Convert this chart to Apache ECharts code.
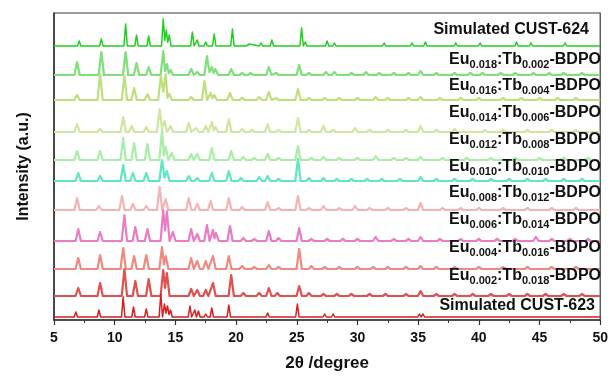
<!DOCTYPE html>
<html><head><meta charset="utf-8">
<script src="https://cdn.jsdelivr.net/npm/echarts/dist/echarts.min.js"></script>
<style>html,body{margin:0;padding:0;background:#fff}#c{width:611px;height:379px}</style>
</head><body><div id="c"></div>
<script>
// ---- data (2theta in degrees, intensity in a.u. above each trace's baseline) ----
const xTicks = [5, 10, 15, 20, 25, 30, 35, 40, 45, 50];
const seriesNames = ['Simulated CUST-624','Eu0.018:Tb0.002-BDPO','Eu0.016:Tb0.004-BDPO','Eu0.014:Tb0.006-BDPO','Eu0.012:Tb0.008-BDPO','Eu0.010:Tb0.010-BDPO','Eu0.008:Tb0.012-BDPO','Eu0.006:Tb0.014-BDPO','Eu0.004:Tb0.016-BDPO','Eu0.002:Tb0.018-BDPO','Simulated CUST-623'];
const offsets = [274, 245, 220, 188, 160, 139, 110, 79, 51, 24, 3];

const pCUST624 = [[7.08,5],[8.9,7],[10.9,22],[11.8,11],[12.8,10],[14.0,27],[14.25,16],[14.5,11],[16.4,14],[16.8,6],[17.5,4],[18.2,12],[19.7,17],[20.7,2],[21.1,2],[22.05,3],[22.95,6],[23.55,2],[25.4,18],[25.7,4],[27.5,5],[28.1,3],[29.2,2],[30.3,2],[31.0,2],[32.2,3],[33.0,2],[34.5,3],[35.6,4],[36.3,2],[37.2,2],[38.1,3],[39.0,2],[40.1,3],[41.5,2],[42.2,2],[43.1,4],[44.3,3],[45.5,2],[47.1,3],[48.3,2],[49.2,2]];
const pEu018 = [[6.9,13],[8.9,23],[10.9,23],[11.8,12],[12.8,8],[14.0,24],[14.3,11],[14.6,5],[16.3,6],[16.8,3],[17.6,19],[18.0,8],[18.3,6],[19.6,6],[20.5,2],[21.2,2],[22.7,8],[23.3,2],[25.2,10],[26.0,2],[27.4,3],[28.1,3],[29.5,2],[30.7,3],[31.8,2],[33.0,2],[34.2,2],[35.2,4],[36.5,2],[38.0,2],[39.3,2],[40.3,2],[41.8,2],[43.0,2],[44.5,2],[45.8,2],[47.0,2],[48.5,2]];
const pEu016 = [[6.9,5],[8.8,26],[10.8,24],[11.6,12],[12.7,6],[13.8,24],[14.2,26],[14.5,6],[16.3,3],[17.4,19],[17.9,7],[18.2,5],[19.5,7],[20.5,2],[21.9,3],[22.7,8],[23.3,2],[25.1,11],[26.0,2],[27.3,2],[28.5,2],[30.0,2],[31.5,3],[32.5,2],[34.2,2],[35.2,3],[36.8,2],[38.5,2],[40.0,2],[42.0,2],[43.5,2],[45.0,2],[46.5,2],[48.0,2]];
const pEu014 = [[6.9,8],[8.8,3],[10.7,15],[11.4,6],[12.6,5],[13.7,23],[14.1,11],[14.6,6],[16.1,9],[16.7,4],[17.5,6],[18.0,10],[18.3,5],[19.4,13],[20.5,3],[21.3,2],[22.6,8],[23.5,2],[25.1,14],[26.0,2],[27.2,6],[28.0,2],[29.8,4],[31.0,2],[32.5,2],[34.0,2],[35.2,6],[36.5,2],[38.0,3],[40.5,2],[42.0,2],[44.0,2],[46.0,2],[48.0,2]];
const pEu012 = [[6.9,9],[8.8,9],[10.7,22],[11.6,17],[12.7,16],[13.9,30],[14.2,13],[14.7,7],[16.3,6],[16.8,6],[18.0,12],[19.6,9],[20.6,3],[21.5,2],[22.6,6],[23.5,2],[25.1,14],[26.2,2],[27.2,3],[28.5,2],[30.0,2],[31.5,4],[33.0,2],[34.0,2],[35.2,3],[37.0,2],[39.0,2],[41.0,2],[43.0,2],[45.0,2],[47.0,2],[49.0,2]];
const pEu010 = [[7.0,8],[8.8,5],[10.7,16],[11.5,8],[12.6,8],[13.9,21],[14.3,10],[16.1,5],[16.8,3],[18.0,8],[19.4,10],[20.4,3],[21.9,4],[22.6,5],[23.5,2],[25.1,22],[26.0,3],[27.2,3],[28.3,2],[29.5,2],[30.8,2],[32.0,2],[33.5,2],[35.2,4],[36.5,2],[38.0,2],[39.5,2],[41.0,2],[42.5,2],[44.0,2],[45.5,2],[47.0,2],[48.5,2]];
const pEu008 = [[6.9,12],[8.7,4],[10.6,14],[11.5,6],[12.6,4],[13.7,23],[14.2,11],[16.1,12],[16.8,6],[17.9,9],[19.4,12],[20.5,3],[22.6,8],[23.5,2],[25.1,14],[26.0,2],[27.2,4],[28.5,2],[29.8,4],[31.0,2],[32.5,2],[34.0,2],[35.2,7],[37.0,2],[38.5,2],[40.0,2],[42.0,2],[44.0,2],[46.0,2],[48.0,2]];
const pEu006 = [[7.0,12],[8.8,9],[10.8,26],[11.7,14],[12.7,12],[14.0,31],[14.3,30],[14.8,9],[16.3,12],[16.8,7],[17.6,16],[18.1,11],[18.35,8],[19.5,15],[20.6,3],[21.5,2],[22.7,10],[23.5,3],[25.2,13],[26.2,2],[27.5,2],[28.8,2],[30.0,2],[31.5,4],[33.0,2],[34.2,2],[35.2,4],[36.8,2],[38.5,2],[40.0,2],[41.5,2],[43.0,2],[44.7,4],[46.0,2],[47.5,2],[49.0,2]];
const pEu004 = [[7.0,11],[8.8,14],[10.7,21],[11.6,13],[12.6,14],[13.9,22],[14.2,13],[16.3,11],[16.8,8],[17.5,8],[18.1,13],[19.4,13],[20.5,3],[21.5,2],[22.7,4],[23.5,2],[25.2,20],[26.2,3],[27.3,2],[28.5,2],[30.0,2],[31.3,2],[32.5,2],[34.0,2],[35.2,3],[36.5,2],[38.0,2],[40.0,2],[42.0,2],[44.0,2],[46.0,2],[48.0,2]];
const pEu002 = [[7.0,8],[8.8,13],[10.8,27],[11.7,15],[12.8,17],[14.0,26],[14.3,23],[16.3,7],[16.8,6],[17.5,6],[18.1,13],[19.6,21],[20.6,3],[21.9,3],[22.7,8],[23.4,3],[25.2,10],[26.0,3],[27.2,2],[28.3,2],[29.5,2],[31.0,2],[32.3,2],[34.0,2],[35.2,5],[36.5,2],[38.0,2],[39.5,2],[41.0,2],[42.5,2],[44.0,2],[45.5,2],[47.0,2],[48.5,2]];
const pCUST623 = [[6.8,5],[8.7,7],[10.7,20],[11.55,10],[12.6,8],[13.8,23],[14.1,13],[14.35,11],[14.6,7],[16.2,11],[16.6,7],[16.9,6],[17.5,3],[18.0,9],[19.4,12],[20.6,2],[21.7,2],[22.6,4],[23.3,2],[25.05,13],[25.85,2],[27.3,3],[28.0,3],[29.9,2],[30.8,2],[31.8,2],[32.6,2],[34.0,2],[35.1,3],[35.4,3],[36.3,1],[37.5,1],[38.5,1],[39.4,1],[40.4,1],[41.5,1],[42.1,2],[42.6,2],[43.5,1],[44.3,1],[45.8,1],[46.5,1],[47.3,1],[48.2,1],[49.0,1]];

const allPeaks = [pCUST624,pEu018,pEu016,pEu014,pEu012,pEu010,pEu008,pEu006,pEu004,pEu002,pCUST623];

// ---- styles / layout ----
const colors = ['#1fd01f','#7fdf78','#bde07c','#cfe5a0','#a9eea6','#5fe6c2','#f3b5b3','#ea7cc2','#ee8a80','#e2504e','#d81e1e'];
const simulated = [true,false,false,false,false,false,false,false,false,false,true];
const labelY = [30, 60, 86, 113, 140, 167, 193, 220, 248, 276, 306];
const labelRight = [589, 601, 601, 601, 601, 601, 601, 601, 601, 601, 595];

function buildTrace(peaks, off, w) {
  const pts = [[5, off]];
  for (let i = 0; i < peaks.length; i++) {
    const [x, h] = peaks[i];
    const prev = peaks[i-1], next = peaks[i+1];
    if (!(prev && x - prev[0] < 2*w)) pts.push([x - w, off]);
    pts.push([x, off + h]);
    if (next && next[0] - x < 2*w) pts.push([(x + next[0]) / 2, off + Math.min(h, next[1]) * 0.35]);
    else pts.push([x + w, off]);
  }
  pts.push([50, off]);
  return pts;
}

const FONT = 'Liberation Sans, Arial, sans-serif';
const series = allPeaks.map((pk, i) => ({
  type: 'line', name: seriesNames[i], showSymbol: false, symbol: 'none',
  data: buildTrace(pk, offsets[i], simulated[i] ? 0.14 : 0.22),
  lineStyle: { color: colors[i], width: simulated[i] ? 1.5 : 2.2, join: 'round' },
  z: 2 + i
}));

function richText(name) {
  const m = name.match(/^Eu([\d.]+):Tb([\d.]+)-BDPO$/);
  if (!m) return '{m|' + name + '}';
  return '{m|Eu}{s|' + m[1] + '}{m|:Tb}{s|' + m[2] + '}{m|-BDPO}';
}

const chart = echarts.init(document.getElementById('c'), null, { renderer: 'canvas' });
chart.setOption({
  animation: false,
  backgroundColor: '#fff',
  grid: { left: 54, right: 9, top: 13, bottom: 59, show: true, borderColor: '#3a3a3a', borderWidth: 1.2, containLabel: false },
  xAxis: {
    type: 'value', min: 5, max: 50, interval: 5,
    name: '2\u03b8 /degree', nameLocation: 'middle', nameGap: 35,
    nameTextStyle: { fontFamily: FONT, fontWeight: 'bold', fontSize: 17, color: '#111' },
    axisLine: { show: true, lineStyle: { color: '#333', width: 1.5 } },
    axisTick: { show: true, inside: false, length: 5, lineStyle: { color: '#333', width: 1.2 } },
    minorTick: { show: true, splitNumber: 2, length: 3, lineStyle: { color: '#333', width: 1 } },
    axisLabel: { fontFamily: FONT, fontWeight: 'bold', fontSize: 14, color: '#111', margin: 11,
      formatter: v => xTicks.indexOf(v) >= 0 ? String(v) : '' },
    splitLine: { show: false }
  },
  yAxis: {
    type: 'value', min: 0, max: 307,
    name: 'Intensity (a.u.)', nameLocation: 'middle', nameGap: 22,
    nameTextStyle: { fontFamily: FONT, fontWeight: 'bold', fontSize: 16, color: '#111' },
    axisLine: { show: true, lineStyle: { color: '#333', width: 1.5 } },
    axisTick: { show: false }, axisLabel: { show: false }, splitLine: { show: false }
  },
  series: series,
  graphic: seriesNames.map((n, i) => ({
    type: 'text', z: 100,
    x: labelRight[i], y: labelY[i],
    style: {
      text: richText(n), align: 'right', verticalAlign: 'middle',
      rich: {
        m: { fontFamily: FONT, fontWeight: 'bold', fontSize: 16, fill: '#111', lineHeight: 18 },
        s: { fontFamily: FONT, fontWeight: 'bold', fontSize: 11, fill: '#111', lineHeight: 18, padding: [9, 0, 0, 0] }
      }
    }
  }))
});
</script>
</body></html>
